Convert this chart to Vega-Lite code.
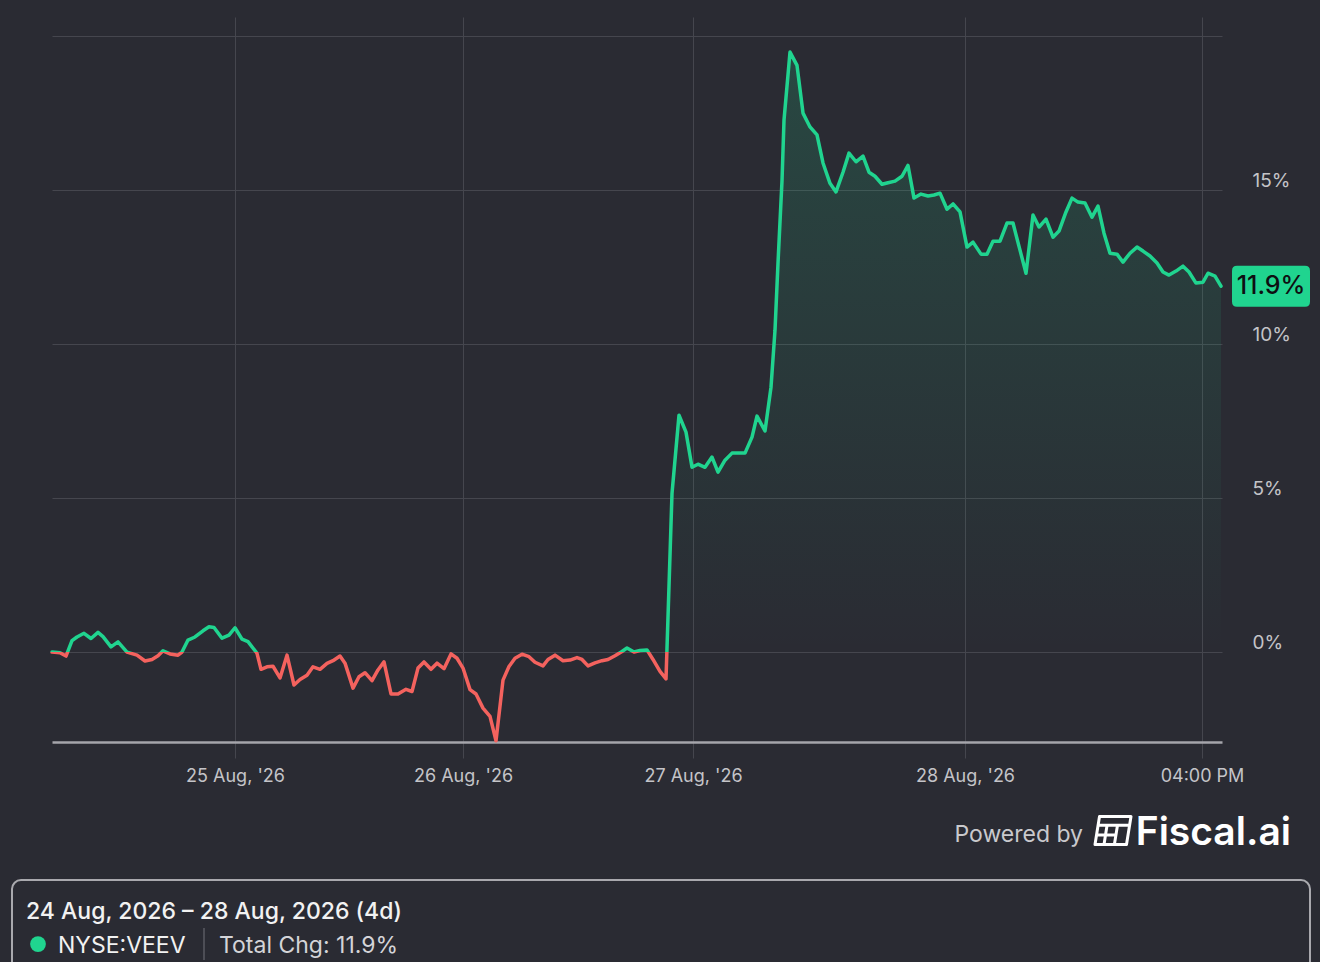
{
  "$schema": "https://vega.github.io/schema/vega-lite/v6.json",
  "width": 1170,
  "height": 725,
  "autosize": "none",
  "padding": {"left": 52, "top": 17, "right": 98, "bottom": 220},
  "background": "#2a2b33",
  "config": {"view": {"stroke": null}, "font": "Inter", "text": {"font": "Inter"}},
  "datasets": {
    "veev": [
      {"i":0,"v":0},{"i":8,"v":-0.02},{"i":14,"v":-0.13},{"i":20,"v":0.37},{"i":25,"v":0.49},{"i":32,"v":0.61},{"i":39,"v":0.44},{"i":46,"v":0.64},{"i":51,"v":0.5},{"i":59,"v":0.17},{"i":66,"v":0.33},{"i":75,"v":0},{"i":85,"v":-0.1},{"i":93,"v":-0.29},{"i":100,"v":-0.24},{"i":106,"v":-0.12},{"i":111,"v":0.04},{"i":118,"v":-0.06},{"i":126,"v":-0.1},{"i":130,"v":0},{"i":136,"v":0.39},{"i":143,"v":0.49},{"i":151,"v":0.69},{"i":157,"v":0.82},{"i":162,"v":0.8},{"i":170,"v":0.45},{"i":177,"v":0.55},{"i":183,"v":0.79},{"i":190,"v":0.42},{"i":196,"v":0.34},{"i":205,"v":-0.04},{"i":209,"v":-0.56},{"i":215,"v":-0.48},{"i":221,"v":-0.46},{"i":228,"v":-0.84},{"i":235,"v":-0.1},{"i":242,"v":-1.07},{"i":248,"v":-0.89},{"i":255,"v":-0.75},{"i":261,"v":-0.48},{"i":268,"v":-0.56},{"i":275,"v":-0.37},{"i":281,"v":-0.28},{"i":288,"v":-0.13},{"i":293,"v":-0.36},{"i":301,"v":-1.17},{"i":307,"v":-0.8},{"i":313,"v":-0.67},{"i":320,"v":-0.93},{"i":326,"v":-0.58},{"i":332,"v":-0.32},{"i":339,"v":-1.36},{"i":346,"v":-1.36},{"i":354,"v":-1.21},{"i":360,"v":-1.28},{"i":366,"v":-0.52},{"i":372,"v":-0.32},{"i":379,"v":-0.56},{"i":385,"v":-0.36},{"i":392,"v":-0.54},{"i":399,"v":-0.06},{"i":405,"v":-0.2},{"i":411,"v":-0.52},{"i":418,"v":-1.22},{"i":424,"v":-1.36},{"i":431,"v":-1.82},{"i":438,"v":-2.09},{"i":444,"v":-2.88},{"i":451,"v":-0.91},{"i":457,"v":-0.47},{"i":463,"v":-0.2},{"i":470,"v":-0.07},{"i":477,"v":-0.15},{"i":483,"v":-0.33},{"i":491,"v":-0.45},{"i":496,"v":-0.24},{"i":503,"v":-0.1},{"i":511,"v":-0.28},{"i":518,"v":-0.26},{"i":525,"v":-0.18},{"i":530,"v":-0.24},{"i":536,"v":-0.45},{"i":543,"v":-0.35},{"i":550,"v":-0.28},{"i":556,"v":-0.24},{"i":563,"v":-0.12},{"i":570,"v":0.02},{"i":575,"v":0.13},{"i":582,"v":0},{"i":588,"v":0.05},{"i":595,"v":0.07},{"i":601,"v":-0.24},{"i":608,"v":-0.63},{"i":614,"v":-0.87},{"i":620,"v":5.15},{"i":627,"v":7.69},{"i":634,"v":7.14},{"i":640,"v":6.0},{"i":646,"v":6.1},{"i":653,"v":6.0},{"i":660,"v":6.33},{"i":666,"v":5.84},{"i":673,"v":6.23},{"i":680,"v":6.46},{"i":686,"v":6.46},{"i":693,"v":6.46},{"i":700,"v":6.98},{"i":705,"v":7.66},{"i":713,"v":7.18},{"i":719,"v":8.6},{"i":723,"v":10.45},{"i":726,"v":12.63},{"i":730,"v":15.3},{"i":732,"v":17.27},{"i":738,"v":19.48},{"i":745,"v":19.05},{"i":751,"v":17.5},{"i":758,"v":17.05},{"i":765,"v":16.79},{"i":771,"v":15.88},{"i":778,"v":15.22},{"i":784,"v":14.94},{"i":791,"v":15.58},{"i":797,"v":16.2},{"i":804,"v":15.92},{"i":811,"v":16.1},{"i":817,"v":15.58},{"i":823,"v":15.45},{"i":830,"v":15.19},{"i":836,"v":15.24},{"i":843,"v":15.29},{"i":850,"v":15.45},{"i":856,"v":15.8},{"i":862,"v":14.74},{"i":869,"v":14.87},{"i":876,"v":14.81},{"i":882,"v":14.84},{"i":888,"v":14.9},{"i":895,"v":14.38},{"i":901,"v":14.55},{"i":908,"v":14.29},{"i":915,"v":13.15},{"i":921,"v":13.31},{"i":929,"v":12.92},{"i":935,"v":12.92},{"i":941,"v":13.34},{"i":948,"v":13.34},{"i":955,"v":13.93},{"i":961,"v":13.93},{"i":968,"v":13.05},{"i":974,"v":12.3},{"i":981,"v":14.19},{"i":987,"v":13.8},{"i":994,"v":14.06},{"i":1001,"v":13.47},{"i":1007,"v":13.67},{"i":1014,"v":14.29},{"i":1020,"v":14.74},{"i":1026,"v":14.61},{"i":1033,"v":14.58},{"i":1040,"v":14.12},{"i":1046,"v":14.48},{"i":1052,"v":13.6},{"i":1058,"v":12.95},{"i":1065,"v":12.92},{"i":1071,"v":12.66},{"i":1078,"v":12.95},{"i":1085,"v":13.15},{"i":1091,"v":13.02},{"i":1098,"v":12.86},{"i":1105,"v":12.63},{"i":1111,"v":12.34},{"i":1117,"v":12.24},{"i":1124,"v":12.37},{"i":1131,"v":12.53},{"i":1137,"v":12.34},{"i":1144,"v":11.98},{"i":1151,"v":12.01},{"i":1156,"v":12.3},{"i":1163,"v":12.21},{"i":1169,"v":11.88}
    ]
  },
  "layer": [
    {
      "data": {"name": "veev"},
      "encoding": {
        "x": {
          "field": "i", "type": "quantitative", "title": null,
          "scale": {"domain": [0, 1170], "nice": false, "zero": false},
          "axis": {
            "values": [183, 411, 641, 913, 1150],
            "labelExpr": "datum.value == 183 ? \"25 Aug, '26\" : datum.value == 411 ? \"26 Aug, '26\" : datum.value == 641 ? \"27 Aug, '26\" : datum.value == 913 ? \"28 Aug, '26\" : '04:00 PM'",
            "grid": true, "gridColor": "#45464e", "gridWidth": 1,
            "ticks": true, "tickColor": "#45464e", "tickSize": 16, "tickWidth": 1,
            "domain": true, "domainColor": "#a5a5ab", "domainWidth": 2.5,
            "labelColor": "#c4c4c8", "labelFontSize": 18, "labelPadding": 9, "labelFlush": false,
            "labelFont": "Inter", "labelBaseline": "top"
          }
        },
        "y": {
          "field": "v", "type": "quantitative", "title": null,
          "scale": {"domain": [-2.92, 20.62], "nice": false, "zero": false},
          "axis": {
            "orient": "right",
            "values": [0, 5, 10, 15, 20],
            "labelExpr": "datum.value == 20 ? '' : datum.value + '%'",
            "grid": true, "gridColor": "#45464e", "gridWidth": 1,
            "ticks": false, "tickSize": 0, "domain": false,
            "labelPadding": 30, "labelAlign": "left", "labelBaseline": "bottom",
            "labelColor": "#c4c4c8", "labelFontSize": 19, "labelFont": "Inter"
          }
        }
      },
      "layer": [
        {
          "mark": {
            "type": "area",
            "fill": {"gradient": "linear", "x1": 0, "y1": 0, "x2": 0, "y2": 1,
              "stops": [
                {"offset": 0, "color": "rgba(31,214,140,0.17)"},
                {"offset": 0.87, "color": "rgba(31,214,140,0)"},
                {"offset": 1, "color": "rgba(31,214,140,0)"}
              ]}
          },
          "encoding": {"y2": {"datum": -2.92}}
        },
        {
          "mark": {
            "type": "line", "strokeWidth": 3.5, "strokeJoin": "round", "strokeCap": "round",
            "stroke": {"gradient": "linear", "x1": 0, "y1": 0, "x2": 0, "y2": 1,
              "stops": [
                {"offset": 0, "color": "#20d48f"},
                {"offset": 0.8712, "color": "#20d48f"},
                {"offset": 0.8712, "color": "#f4625e"},
                {"offset": 1, "color": "#f4625e"}
              ]}
          }
        },
        {
          "transform": [{"filter": "datum.i == 1169"}],
          "mark": {
            "type": "point", "filled": true, "color": "#20d48f", "opacity": 1, "strokeWidth": 0,
            "size": 6084, "xOffset": 50,
            "shape": "M-0.872,-0.526 L0.872,-0.526 Q1,-0.526 1,-0.398 L1,0.398 Q1,0.526 0.872,0.526 L-0.872,0.526 Q-1,0.526 -1,0.398 L-1,-0.398 Q-1,-0.526 -0.872,-0.526 Z"
          }
        },
        {
          "transform": [{"filter": "datum.i == 1169"}],
          "mark": {"type": "text", "text": "11.9%", "xOffset": 50, "fontSize": 25, "fontWeight": 500,
            "color": "#0e0f12", "align": "center", "baseline": "middle"}
        }
      ]
    },
    {
      "data": {"values": [{"t": "Powered by"}]},
      "mark": {"type": "text", "align": "right", "baseline": "alphabetic", "fontSize": 23, "color": "#c9c9cd"},
      "encoding": {"x": {"datum": 1031, "type": "quantitative"}, "y": {"datum": -6.169, "type": "quantitative"}, "text": {"field": "t", "type": "nominal"}}
    },
    {
      "data": {"values": [{"t": "Fiscal.ai"}]},
      "mark": {"type": "text", "align": "right", "baseline": "alphabetic", "fontSize": 39, "fontWeight": 600, "color": "#ffffff"},
      "encoding": {"x": {"datum": 1239, "type": "quantitative"}, "y": {"datum": -6.266, "type": "quantitative"}, "text": {"field": "t", "type": "nominal"}}
    },
    {
      "data": {"values": [{"t": "logo"}]},
      "mark": {"type": "point", "filled": false, "stroke": "#ffffff", "strokeWidth": 3, "opacity": 1, "size": 1296, "strokeJoin": "round",
        "shape": "M-0.75,-0.78 L1,-0.78 L0.75,0.78 L-1,0.78 Z M-0.827,-0.3 L0.923,-0.3 M0.25,-0.3 L0.077,0.78 M-0.915,0.25 L0.162,0.25 M-0.33,-0.3 L-0.5,0.78"},
      "encoding": {"x": {"datum": 1061, "type": "quantitative"}, "y": {"datum": -5.795, "type": "quantitative"}}
    },
    {
      "data": {"values": [{"t": "box"}]},
      "mark": {"type": "rect", "fillOpacity": 0, "stroke": "#a9a9ae", "strokeWidth": 2, "cornerRadius": 9},
      "encoding": {"x": {"datum": -40, "type": "quantitative"}, "x2": {"datum": 1258}, "y": {"datum": -7.403, "type": "quantitative"}, "y2": {"datum": -10.97}}
    },
    {
      "data": {"values": [{"t": "24 Aug, 2026 – 28 Aug, 2026 (4d)"}]},
      "mark": {"type": "text", "align": "left", "baseline": "alphabetic", "fontSize": 23, "fontWeight": 500, "color": "#f2f2f2"},
      "encoding": {"x": {"datum": -26, "type": "quantitative"}, "y": {"datum": -8.669, "type": "quantitative"}, "text": {"field": "t", "type": "nominal"}}
    },
    {
      "data": {"values": [{"t": "NYSE:VEEV"}]},
      "mark": {"type": "point", "shape": "circle", "filled": true, "color": "#20d48f", "opacity": 1, "size": 250},
      "encoding": {"x": {"datum": -14, "type": "quantitative"}, "y": {"datum": -9.481, "type": "quantitative"}}
    },
    {
      "data": {"values": [{"t": "NYSE:VEEV"}]},
      "mark": {"type": "text", "align": "left", "baseline": "alphabetic", "fontSize": 23, "color": "#f2f2f2"},
      "encoding": {"x": {"datum": 6, "type": "quantitative"}, "y": {"datum": -9.773, "type": "quantitative"}, "text": {"field": "t", "type": "nominal"}}
    },
    {
      "data": {"values": [{"t": "sep"}]},
      "mark": {"type": "rule", "color": "#5a5b63", "strokeWidth": 1.5},
      "encoding": {"x": {"datum": 152, "type": "quantitative"}, "y": {"datum": -8.961, "type": "quantitative"}, "y2": {"datum": -10.0}}
    },
    {
      "data": {"values": [{"t": "Total Chg: 11.9%"}]},
      "mark": {"type": "text", "align": "left", "baseline": "alphabetic", "fontSize": 23, "color": "#d4d4d8"},
      "encoding": {"x": {"datum": 167, "type": "quantitative"}, "y": {"datum": -9.773, "type": "quantitative"}, "text": {"field": "t", "type": "nominal"}}
    }
  ]
}
